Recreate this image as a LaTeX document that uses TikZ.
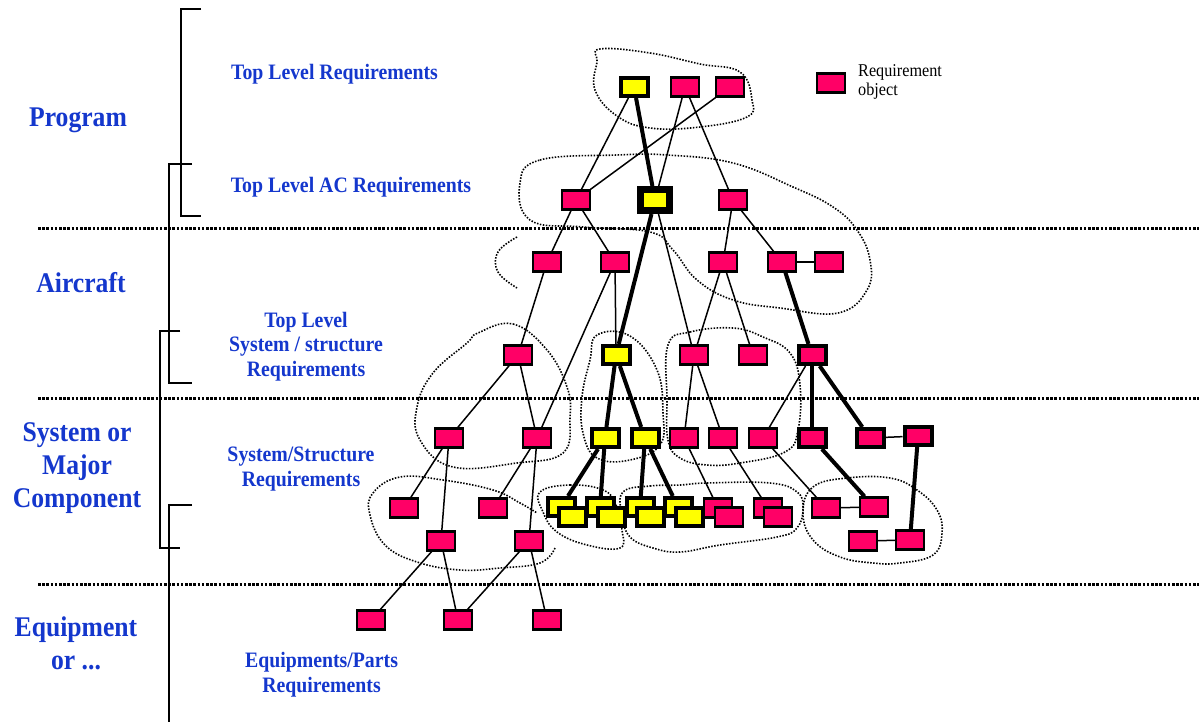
\documentclass[tikz,border=0pt]{standalone}
\usepackage{fontspec}
\setmainfont{Liberation Serif}[FakeStretch=0.9]
\usetikzlibrary{backgrounds}
\definecolor{reqpink}{RGB}{255,0,102}
\definecolor{reqyellow}{RGB}{255,255,0}
\definecolor{lvlblue}{RGB}{20,55,205}
\tikzset{
  req/.style={draw=black, fill=reqpink, line width=2.2pt, minimum width=28pt, minimum height=19pt, inner sep=0pt},
  reqk/.style={req, line width=4pt, minimum width=27pt, minimum height=18pt},
  yreq/.style={reqk, fill=reqyellow},
  link/.style={line width=1.5pt},
  tlink/.style={line width=4pt},
  sep/.style={line width=3pt, dash pattern=on 2.6pt off 1.6pt},
  blob/.style={line width=1.6pt, dash pattern=on 1.5pt off 1.5pt},
  brace/.style={line width=1.6pt},
  biglbl/.style={text=lvlblue, font=\fontsize{28.5}{33}\selectfont\bfseries, align=center, anchor=base, inner sep=0pt},
  midlbl/.style={text=lvlblue, font=\fontsize{22}{24.5}\selectfont\bfseries, align=center, anchor=base, inner sep=0pt},
}
\begin{document}
\begin{tikzpicture}[x=1pt, y=-1pt]
\useasboundingbox (0,0) rectangle (1199,722);

% level separators
\draw[sep] (38,228) -- (1199,228);
\draw[sep] (38,398) -- (1199,398);
\draw[sep] (38,584) -- (1199,584);

% level brackets
\draw[brace] (201,9) -- (181,9) -- (181,216) -- (201,216);
\draw[brace] (192,164) -- (169,164) -- (169,383) -- (192,383);
\draw[brace] (180,331) -- (160,331) -- (160,548) -- (180,548);
\draw[brace] (192,505) -- (169,505) -- (169,722);

% level names (base anchor sits on the last line)
\node[biglbl] (lprog) at (78,127) {Program};
\node[biglbl] (lair) at (81,292) {Aircraft};
\node[biglbl] (lsys) at (77,507) {System or\\Major\\Component};
\node[biglbl] (lequ) at (76,669) {Equipment\\or ...};

% requirement tiers
\node[midlbl] (ttop) at (334.5,80) {Top Level Requirements};
\node[midlbl] (tac) at (351,193) {Top Level AC Requirements};
\node[midlbl] (tsys) at (306,376) {Top Level\\System / structure\\Requirements};
\node[midlbl] (tss) at (301,486) {System/Structure\\Requirements};
\node[midlbl] (teq) at (321.5,692) {Equipments/Parts\\Requirements};

% legend
\node[req] (key) at (831,83) {};
\node[anchor=base west, align=left, inner sep=0pt, font=\fontsize{18}{19}\selectfont] (keytxt) at (858,96) {Requirement\\object};

% requirement objects
\node[yreq] (T1) at (634,87) {};
\node[req] (T2) at (685,87) {};
\node[req] (T3) at (730,87) {};

\node[req] (A1) at (576,200) {};
\node[yreq, line width=7pt, minimum width=29pt, minimum height=21pt] (A2) at (655,200) {};
\node[req] (A3) at (733,200) {};

\node[req] (B1) at (547,262) {};
\node[req] (B2) at (615,262) {};
\node[req] (B3) at (723,262) {};
\node[req] (B4) at (782,262) {};
\node[req] (B5) at (829,262) {};

\node[req] (C1) at (518,355) {};
\node[yreq] (C2) at (616,355) {};
\node[req] (C3) at (694,355) {};
\node[req] (C4) at (753,355) {};
\node[reqk] (C5) at (812,355) {};

\node[req] (D1) at (449,438) {};
\node[req] (D2) at (537,438) {};
\node[yreq] (D3) at (605,438) {};
\node[yreq] (D4) at (645,438) {};
\node[req] (D5) at (684,438) {};
\node[req] (D6) at (723,438) {};
\node[req] (D7) at (763,438) {};
\node[reqk] (D8) at (812,438) {};
\node[reqk] (D9) at (870,438) {};
\node[reqk] (D10) at (918,436) {};

\node[req] (E1) at (404,508) {};
\node[req] (E2) at (493,508) {};
\node[yreq] (Y1b) at (561,507) {};
\node[yreq] (Y2b) at (600,507) {};
\node[yreq] (Y3b) at (640,507) {};
\node[yreq] (Y4b) at (678,507) {};
\node[yreq] (Y1f) at (572,517) {};
\node[yreq] (Y2f) at (611,517) {};
\node[yreq] (Y3f) at (650,517) {};
\node[yreq] (Y4f) at (689,517) {};
\node[req] (P1b) at (718,508) {};
\node[req] (P1f) at (729,517) {};
\node[req] (P2b) at (768,508) {};
\node[req] (P2f) at (778,517) {};
\node[req] (F1) at (826,508) {};
\node[req] (F2) at (874,507) {};
\node[req] (G1) at (863,541) {};
\node[req] (G2) at (910,540) {};

\node[req] (H1) at (441,541) {};
\node[req] (H2) at (529,541) {};

\node[req] (I1) at (371,620) {};
\node[req] (I2) at (458,620) {};
\node[req] (I3) at (547,620) {};

\begin{scope}[on background layer]
  % groupings
  \draw[blob] plot[smooth cycle, tension=0.7] coordinates {(600,49) (650,53) (700,64) (740,72) (752,100) (747,117) (700,127) (650,128) (617,116) (595,90) (597,62)};
  \draw[blob] plot[smooth cycle, tension=0.7] coordinates {(520,183) (540,160) (617,155) (667,155) (733,163) (793,187) (833,207) (857,230) (870,260) (867,290) (838,313) (780,308) (733,300) (697,280) (673,250) (650,232) (583,227) (530,220)};
  \draw[blob] plot[smooth, tension=0.7] coordinates {(517,237) (498,252) (498,272) (517,288)};
  \draw[blob] plot[smooth cycle, tension=0.7] coordinates {(478,333) (513,324) (547,350) (567,387) (570,417) (563,453) (517,463) (453,467) (420,440) (417,407) (433,373) (467,343)};
  \draw[blob] plot[smooth cycle, tension=0.7] coordinates {(597,335) (630,336) (657,370) (663,413) (660,445) (630,460) (597,458) (583,433) (582,397) (590,360)};
  \draw[blob] plot[smooth cycle, tension=0.7] coordinates {(668,345) (690,332) (733,328) (763,337) (790,353) (800,385) (798,430) (785,452) (740,463) (707,465) (680,458) (668,440) (667,400)};
  \draw[blob] plot[smooth, tension=0.7] coordinates {(555,548) (540,563) (500,568) (460,570) (417,562) (385,545) (370,515) (373,493) (400,477) (443,480) (493,490) (520,503) (537,513)};
  \draw[blob] plot[smooth cycle, tension=0.7] coordinates {(540,492) (570,485) (603,490) (616,505) (622,530) (620,548) (587,545) (557,532) (543,512)};
  \draw[blob] plot[smooth cycle, tension=0.7] coordinates {(623,492) (650,486) (680,485) (707,483) (770,483) (797,492) (803,508) (797,528) (777,537) (720,545) (680,552) (653,548) (630,537) (622,515)};
  \draw[blob] plot[smooth cycle, tension=0.7] coordinates {(813,487) (847,478) (890,478) (917,490) (937,510) (942,533) (933,555) (900,563) (873,563) (840,557) (813,540) (803,513)};

  % derivation links
  \foreach \a/\b in {T1/A1, T2/A2, T2/A3, T3/A1, A1/B1, A1/B2, A2/C3, A3/B3, A3/B4, B4/B5,
                     B1/C1, B2/C2, B2/D2, B3/C3, B3/C4, C1/D1, C1/D2, C3/D5, C3/D6, C5/D7,
                     D9/D10, D1/E1, D1/H1, D2/E2, D2/H2, D5/P1b, D6/P2b, D7/F1, F1/F2, G1/G2,
                     H1/I1, H1/I2, H2/I2, H2/I3}
    \draw[link] (\a) -- (\b);
  \foreach \a/\b in {T1/A2, A2/C2, B4/C5, C2/D3, C2/D4, C5/D8, C5/D9, D3/Y1b, D3/Y2b,
                     D4/Y3b, D4/Y4b, D8/F2, D10/G2}
    \draw[tlink] (\a) -- (\b);
\end{scope}
\end{tikzpicture}
\end{document}
